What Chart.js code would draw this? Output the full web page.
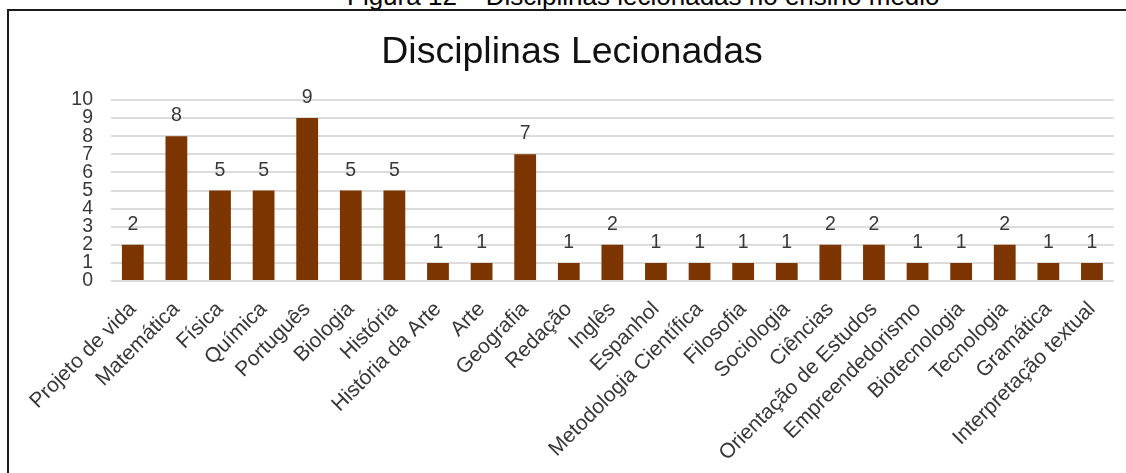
<!DOCTYPE html>
<html>
<head>
<meta charset="utf-8">
<script src="https://cdn.jsdelivr.net/npm/chart.js@4.4.1/dist/chart.umd.min.js"></script>
<style>
  html, body { margin: 0; padding: 0; background: #fff; overflow: hidden; }
  body { width: 1126px; height: 473px; position: relative; }
  #caption {
    position: absolute; left: 347px; top: -17px;
    font: 26px/26px "Liberation Sans", Arial, sans-serif; color: #000; white-space: nowrap;
  }
  #frame {
    position: absolute; left: 7px; top: 9px; width: 1200px; height: 600px;
    border-left: 2px solid #1a1a1a; border-top: 2px solid #1a1a1a;
  }
  #wrap { position: absolute; left: 10px; top: 12px; width: 1116px; height: 461px; }
</style>
</head>
<body>
<div id="caption">Figura 12 – Disciplinas lecionadas no ensino médio</div>
<div id="frame"></div>
<div id="wrap"><canvas id="barChart"></canvas></div>
<script>
// values
const categories = [
  'Projeto de vida', 'Matemática', 'Física', 'Química', 'Português', 'Biologia',
  'História', 'História da Arte', 'Arte', 'Geografia', 'Redação', 'Inglês',
  'Espanhol', 'Metodologia Científica', 'Filosofia', 'Sociologia', 'Ciências',
  'Orientação de Estudos', 'Empreendedorismo', 'Biotecnologia', 'Tecnologia',
  'Gramática', 'Interpretação textual'
];
const counts = [2, 8, 5, 5, 9, 5, 5, 1, 1, 7, 1, 2, 1, 1, 1, 1, 2, 2, 1, 1, 2, 1, 1];
const yMin = 0;
const yMax = 10;
const yStep = 1;

const FONT = '"Liberation Sans", Arial, sans-serif';
const BAR_COLOR = '#7d3500';
const TEXT_COLOR = '#383838';

// numbers above each bar
const valueLabels = {
  id: 'valueLabels',
  afterDatasetsDraw(chart) {
    const ctx = chart.ctx;
    const meta = chart.getDatasetMeta(0);
    ctx.save();
    ctx.font = '19.5px ' + FONT;
    ctx.fillStyle = TEXT_COLOR;
    ctx.textAlign = 'center';
    ctx.textBaseline = 'alphabetic';
    meta.data.forEach((bar, i) => {
      ctx.fillText(String(counts[i]), bar.x, bar.y - 15);
    });
    ctx.restore();
  }
};

const ctx = document.getElementById('barChart').getContext('2d');

new Chart(ctx, {
  type: 'bar',
  data: {
    labels: categories,
    datasets: [{
      label: 'Disciplinas',
      data: counts,
      backgroundColor: BAR_COLOR,
      borderWidth: 0,
      barPercentage: 0.5,
      categoryPercentage: 1.0
    }]
  },
  options: {
    responsive: true,
    maintainAspectRatio: false,
    animation: false,
    layout: { padding: { left: 19, right: 11, top: 0, bottom: 0 } },
    scales: {
      x: {
        grid: { display: false, drawTicks: false },
        border: { display: false },
        ticks: {
          autoSkip: false,
          maxRotation: 45,
          minRotation: 45,
          padding: 16,
          color: TEXT_COLOR,
          font: { family: FONT, size: 21 }
        },
        afterFit(scale) { scale.height = 192; }
      },
      y: {
        min: yMin,
        max: yMax,
        grid: { color: '#dcdcdc', lineWidth: 2, drawTicks: false },
        border: { display: false },
        ticks: {
          stepSize: yStep,
          autoSkip: false,
          padding: 18,
          color: TEXT_COLOR,
          font: { family: FONT, size: 19.5 }
        },
        afterFit(scale) { scale.width = 82; }
      }
    },
    plugins: {
      legend: { display: false },
      tooltip: { enabled: false },
      title: {
        display: true,
        text: 'Disciplinas Lecionadas',
        color: '#111',
        font: { family: FONT, size: 37.5, weight: 'normal' },
        padding: { top: 18, bottom: 25 }
      }
    }
  },
  plugins: [valueLabels]
});
</script>
</body>
</html>
